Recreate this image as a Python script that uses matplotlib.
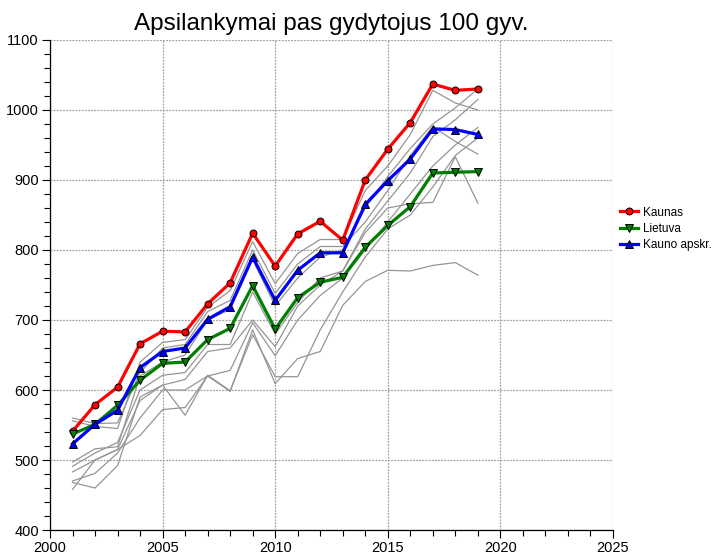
"""Apsilankymai pas gydytojus 100 gyv. — Kaunas, Lietuva, apskritys."""
import numpy as np
import matplotlib
matplotlib.use("Agg")
import matplotlib.pyplot as plt
from matplotlib.ticker import MultipleLocator

plt.rcParams["font.family"] = ["Liberation Sans", "DejaVu Sans"]

years = list(range(2001, 2020))

kaunas = [541, 579, 604, 666, 684, 683, 723, 753, 824, 777, 823, 841, 814,
          900, 944, 982, 1037, 1028, 1030]
lietuva = [537, 551, 578, 614, 638, 640, 672, 688, 749, 687, 732, 754, 761,
           804, 835, 862, 910, 911, 912]
kauno_apskr = [523, 551, 571, 632, 655, 660, 701, 719, 790, 728, 771, 796, 796,
               865, 899, 930, 973, 972, 965]

# kitos apskritys (pilkos linijos)
apskritys = [
    [556, 548, 545, 640, 668, 672, 718, 742, 812, 752, 795, 815, 815, 885, 920, 965, 1028, 1010, 1000],
    [560, 552, 553, 625, 660, 665, 712, 728, 800, 738, 780, 805, 805, 840, 885, 935, 976, 955, 937],
    [497, 516, 519, 620, 640, 650, 700, 715, 786, 720, 760, 790, 800, 860, 905, 945, 980, 1003, 1030],
    [491, 510, 525, 600, 621, 625, 665, 665, 740, 680, 725, 760, 770, 830, 870, 910, 962, 986, 1015],
    [483, 500, 515, 585, 607, 615, 655, 660, 700, 662, 720, 750, 770, 825, 860, 866, 868, 933, 867],
    [470, 481, 510, 560, 600, 600, 620, 628, 696, 649, 700, 735, 760, 800, 840, 880, 920, 950, 975],
    [458, 500, 515, 535, 572, 575, 620, 598, 686, 609, 645, 655, 721, 755, 771, 770, 778, 782, 764],
    [468, 460, 492, 590, 607, 564, 621, 599, 679, 619, 619, 686, 740, 790, 830, 850, 890, 935, 960],
]

fig = plt.figure(figsize=(7.13, 5.55), dpi=100)
ax = fig.add_axes([0.0701, 0.045, 0.7896, 0.883])

for s in apskritys:
    ax.plot(years, s, color="#959595", lw=0.9, zorder=2)

ax.plot(years, kaunas, color="#ff0000", lw=2.3, marker="o", ms=5,
        mfc="#ff0000", mec="black", mew=0.7, label="Kaunas", zorder=4)
ax.plot(years, lietuva, color="#008000", lw=2.3, marker="v", ms=5.5,
        mfc="#008000", mec="black", mew=0.7, label="Lietuva", zorder=4)
ax.plot(years, kauno_apskr, color="#0000ff", lw=2.3, marker="^", ms=5.5,
        mfc="#0000ff", mec="black", mew=0.7, label="Kauno apskr.", zorder=4)

ax.set_xlim(2000, 2025)
ax.set_ylim(400, 1100)
ax.xaxis.set_major_locator(MultipleLocator(5))
ax.xaxis.set_minor_locator(MultipleLocator(1))
ax.yaxis.set_major_locator(MultipleLocator(100))
ax.yaxis.set_minor_locator(MultipleLocator(20))
ax.tick_params(which="major", direction="out", length=6, width=0.8, labelsize=10.5, pad=2)
ax.tick_params(which="minor", direction="out", length=4, width=0.8)
ax.grid(True, which="major", color="#a0a0a0", ls=(0, (1.5, 1)), lw=0.9, zorder=1)
for side in ("top", "right"):
    ax.spines[side].set_visible(False)
for side in ("left", "bottom"):
    ax.spines[side].set_linewidth(0.9)

ax.set_title("Apsilankymai pas gydytojus 100 gyv.", fontsize=17.5, pad=7)

fig.legend(loc="center left", bbox_to_anchor=(0.869, 0.588), frameon=False,
           fontsize=8.5, handlelength=1.6, handletextpad=0.4, labelspacing=0.35,
           borderaxespad=0, borderpad=0)

fig.savefig("out.png", dpi=100)
